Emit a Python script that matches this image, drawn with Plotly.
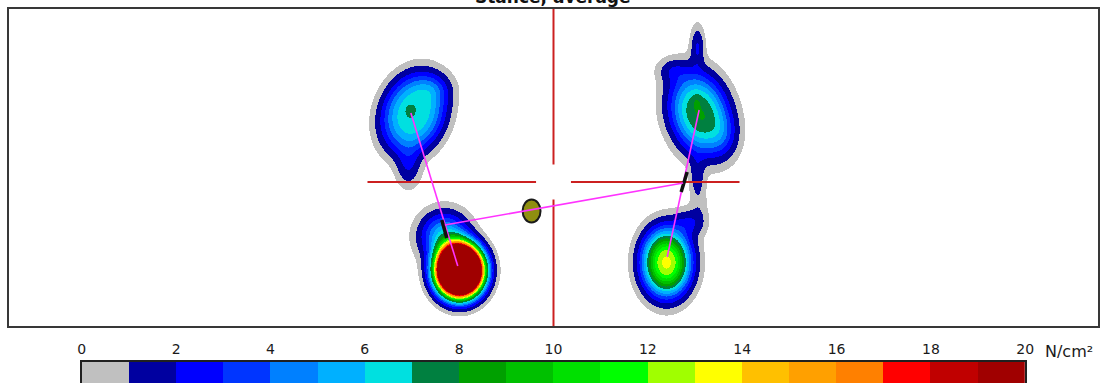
import numpy as np
import plotly.graph_objects as go

W, H = 1113, 383

# ---- colour scale: one colour per 1 N/cm² from 0 to 20 ----
scale_ticks = list(range(0, 21, 2))
bin_colors = ["#c0c0c0", "#0000a0", "#0000ff", "#0035ff", "#0080ff",
              "#00b0ff", "#00e0e0", "#008040", "#00a000", "#00c000",
              "#00e000", "#00ff00", "#a0ff00", "#ffff00", "#ffc000",
              "#ffa000", "#ff8000", "#ff0000", "#c00000", "#a00000"]
z_max = 20.0
z_floor = 0.35  # below this nothing is drawn

# ---- paw pressure components (mat coordinates in cm, origin at crosshair) ----
# x, y, sigma_x, sigma_y, tilt (deg), peak (N/cm²), profile exponent
comp_paw = ["FL", "FL", "FL", "FL",
            "FR", "FR", "FR", "FR", "FR", "FR", "FR",
            "HL", "HL",
            "HR", "HR"]
comp_x = [-14.0, -11.9, -14.5, -14.4,
          14.6, 14.4, 14.35, 14.6, 17.0, 11.9, 14.3,
          -9.4, -10.9,
          11.3, 13.6]
comp_y = [6.9, 9.4, 1.6, 7.2,
          6.9, 13.6, 0.7, -2.3, 4.6, 11.2, 8.2,
          -8.8, -5.4,
          -8.0, -4.0]
comp_sx = [2.35, 1.2, 0.8, 0.3,
           2.1, 0.45, 0.5, 0.6, 1.0, 1.0, 0.3,
           1.7, 1.6,
           1.75, 1.0]
comp_sy = [3.1, 1.0, 1.3, 0.4,
           3.0, 1.3, 1.4, 1.6, 1.5, 0.8, 0.5,
           1.9, 1.6,
           2.4, 0.9]
comp_tilt = [-20, 0, 0, 0,
             15, 0, 0, 0, 0, 0, 0,
             0, 30,
             0, 0]
comp_peak = [6.9, 1.3, 1.8, 0.6,
             8.0, 2.0, 1.4, 0.6, 1.4, 1.4, 0.55,
             50.0, 6.0,
             13.2, 1.8]
comp_exp = [3.0, 2, 2, 2,
            2.6, 2, 2, 2, 2, 2, 2,
            2.6, 2.2,
            2.5, 2]

# ---- paw centres of pressure and gait lines ----
paw_names = ["FL", "HL", "FR", "HR"]
paw_cx = [-14.3, -9.6, 14.6, 11.4]
paw_cy = [6.9, -8.4, 7.2, -7.5]
side_cop_x = [-10.9, 13.0]
side_cop_y = [-4.3, -0.1]
side_mark_x = [[-11.2, -10.7], [13.4, 12.8]]
side_mark_y = [[-3.8, -5.6], [1.0, -1.0]]
total_cop_x = [-2.2]
total_cop_y = [-2.9]

# ---- pressure grid ----
gx = np.round(np.arange(-20.0, 20.01, 0.1), 2)
gy = np.round(np.arange(-14.4, 17.31, 0.1), 2)
XX, YY = np.meshgrid(gx, gy)
Z = np.zeros_like(XX)
for x0, y0, sx, sy, t, pk, q in zip(comp_x, comp_y, comp_sx, comp_sy,
                                     comp_tilt, comp_peak, comp_exp):
    th = np.radians(t)
    dx, dy = XX - x0, YY - y0
    u = dx * np.cos(th) + dy * np.sin(th)
    v = -dx * np.sin(th) + dy * np.cos(th)
    r2 = (u / sx) ** 2 + (v / sy) ** 2
    Z += pk * np.exp(-0.5 * r2 ** (q / 2.0))
Z = np.minimum(Z, z_max - 0.01)
z_list = [[None if val < z_floor else round(float(val), 2) for val in row] for row in Z]

# stepped colour scale
colorscale = []
for i, c in enumerate(bin_colors):
    colorscale.append([i / 20.0, c])
    colorscale.append([(i + 1) / 20.0, c])

fig = go.Figure()

fig.add_trace(go.Heatmap(
    x=gx, y=gy, z=z_list, zmin=0, zmax=z_max, colorscale=colorscale,
    showscale=False, zsmooth=False, hoverinfo="skip",
    xaxis="x", yaxis="y"))

# crosshair
arm, gap = 18.65, 1.75
red = "#cc2020"
for xs, ys in [([-arm, -gap], [0, 0]), ([gap, arm], [0, 0]),
               ([0, 0], [17.3, gap]), ([0, 0], [-gap, -14.4])]:
    fig.add_trace(go.Scatter(x=xs, y=ys, mode="lines",
                             line=dict(color=red, width=2),
                             hoverinfo="skip", showlegend=False))

# gait lines: front to hind on each side, then across the side COPs
magenta = "#ff33ff"
fig.add_trace(go.Scatter(x=[paw_cx[0], paw_cx[1]], y=[paw_cy[0], paw_cy[1]],
                         mode="lines", line=dict(color=magenta, width=1.6),
                         hoverinfo="skip", showlegend=False))
fig.add_trace(go.Scatter(x=[paw_cx[2], paw_cx[3]], y=[paw_cy[2], paw_cy[3]],
                         mode="lines", line=dict(color=magenta, width=1.6),
                         hoverinfo="skip", showlegend=False))
for mx, my in zip(side_mark_x, side_mark_y):
    fig.add_trace(go.Scatter(x=mx, y=my, mode="lines",
                             line=dict(color="#111111", width=3.5),
                             hoverinfo="skip", showlegend=False))

# overall centre of pressure
fig.add_shape(type="circle", xref="x", yref="y",
              x0=total_cop_x[0] - 0.9, x1=total_cop_x[0] + 0.9,
              y0=total_cop_y[0] - 1.15, y1=total_cop_y[0] + 1.15,
              fillcolor="#8f8f10", line=dict(color="#1a1a1a", width=2),
              layer="below")
fig.add_trace(go.Scatter(x=side_cop_x, y=side_cop_y, mode="lines",
                         line=dict(color=magenta, width=1.6),
                         hoverinfo="skip", showlegend=False))

# colour bar drawn as its own strip
bin_mid = [i + 0.5 for i in range(20)]
fig.add_trace(go.Heatmap(
    x=bin_mid, y=[0.5], z=[bin_mid], zmin=0, zmax=z_max,
    colorscale=colorscale, showscale=False, hoverinfo="skip",
    xaxis="x2", yaxis="y2"))

# frame and colour-bar placement (page pixels)
px_l, px_r, px_t, px_b = 5, 1107, 9, 326
cb_l, cb_r, cb_t = 78.7, 1033.3, 362

frame = dict(showticklabels=False, ticks="", showgrid=False, zeroline=False,
             showline=True, mirror=True, linecolor="#383838", linewidth=2,
             fixedrange=True)

fig.update_layout(
    width=W, height=H, autosize=False, margin=dict(l=0, r=0, t=0, b=0, pad=0),
    paper_bgcolor="white", plot_bgcolor="white",
    showlegend=False,
    xaxis=dict(domain=[px_l / W, px_r / W], range=[-54.6, 54.6], **frame),
    yaxis=dict(domain=[1 - px_b / H, 1 - px_t / H], range=[-14.4, 17.3], **frame),
    xaxis2=dict(domain=[cb_l / W, cb_r / W], range=[0, 20], side="top",
                anchor="y2", tickvals=scale_ticks,
                ticktext=[str(t) for t in scale_ticks],
                ticks="", ticklabelstandoff=0, showgrid=False, zeroline=False,
                showline=True, mirror=False, linecolor="#202020", linewidth=2,
                tickfont=dict(family="DejaVu Sans", size=14, color="#1a1a1a"),
                fixedrange=True),
    yaxis2=dict(domain=[0, 1 - cb_t / H], range=[0, 1], anchor="x2",
                showticklabels=False, ticks="", showgrid=False, zeroline=False,
                showline=True, mirror=True, linecolor="#202020", linewidth=2,
                fixedrange=True),
    annotations=[
        dict(text="<b>Stance, average</b>", xref="paper", yref="paper",
             x=555 / W, y=1 - 9.5 / H, xanchor="center", yanchor="bottom",
             showarrow=False,
             font=dict(family="DejaVu Sans", size=17, color="#111111")),
        dict(text="N/cm²", xref="paper", yref="paper",
             x=1051 / W, y=1 - 351 / H, xanchor="left", yanchor="middle",
             showarrow=False,
             font=dict(family="DejaVu Sans", size=16, color="#1a1a1a")),
    ],
)

fig.write_html("out.html", config={"responsive": False, "displayModeBar": False})
